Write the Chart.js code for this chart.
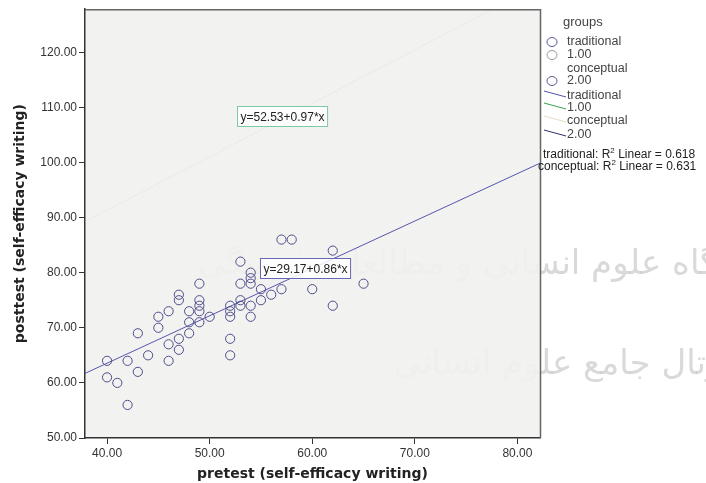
<!DOCTYPE html>
<html>
<head>
<meta charset="utf-8">
<script src="https://cdn.jsdelivr.net/npm/chart.js@4.4.1/dist/chart.umd.min.js"></script>
<style>
  html, body { margin: 0; padding: 0; background: #fff; }
  #wrap { width: 706px; height: 483px; }
</style>
</head>
<body>
<div id="wrap"><canvas id="scatter" width="706" height="483"></canvas></div>
<script>
// traditional group: pretest / posttest scores
const pretest = [57, 58, 62, 53, 54, 54, 54, 53, 49, 57, 55, 56, 55, 60, 62, 65, 53, 53, 54, 54,
  52, 52, 52, 52, 52, 50, 49, 49, 49, 49, 48, 48, 48, 47, 47, 47, 47, 46, 46, 46,
  45, 45, 44, 43, 43, 42, 42, 41, 40, 40];
const posttest = [86, 86, 84, 82, 80, 79, 78, 78, 78, 77, 77, 76, 75, 77, 74, 78, 75, 74, 74, 72,
  74, 73, 72, 68, 65, 72, 75, 74, 73, 71, 73, 71, 69, 76, 75, 68, 66, 73, 67, 64,
  72, 70, 65, 69, 62, 64, 56, 60, 64, 61];

// fit lines (intercept, slope)
const tradFit = [29.17, 0.86];
const concFit = [52.53, 0.97];

const xTicks = [40, 50, 60, 70, 80];
const yTicks = [50, 60, 70, 80, 90, 100, 110, 120];
const xRange = [37.85, 82.2];
const yRange = [50, 127.8];

const legendItems = ['traditional', '1.00', 'conceptual', '2.00', 'traditional', '1.00', 'conceptual', '2.00'];
const r2Labels = [['traditional: R', ' Linear = 0.618'], ['conceptual: R', ' Linear = 0.631']];

const fitLine = (f) => xRange.map(x => ({ x: x, y: f[0] + f[1] * x }));
const eqText = (f) => 'y=' + f[0].toFixed(2) + '+' + f[1].toFixed(2) + '*x';

const txt = '#333';
const sans = '"Liberation Sans", Arial, sans-serif';

const backdrop = {
  id: 'backdrop',
  beforeDraw(chart) {
    const c = chart.ctx, a = chart.chartArea;
    c.save();
    c.fillStyle = '#fff';
    c.fillRect(0, 0, chart.width, chart.height);
    // faint scanned watermark text
    c.fillStyle = 'rgba(170,170,170,0.45)';
    c.font = '34px "DejaVu Sans"';
    c.direction = 'rtl';
    c.textAlign = 'right';
    c.textBaseline = 'middle';
    c.fillText('پژوهشگاه علوم انسانی و مطالعات فرهنگی', 706 + c.measureText('پژوهش').width, 265);
    c.fillText('پرتال جامع علوم انسانی', 706 + c.measureText('پر').width, 365);
    c.fillStyle = 'rgba(241,241,240,0.9)';
    c.fillRect(a.left, a.top, a.right - a.left, a.bottom - a.top);
    c.restore();
  },
  afterDraw(chart) {
    const c = chart.ctx, a = chart.chartArea;
    c.save();
    c.strokeStyle = '#666';
    c.lineWidth = 1.5;
    c.beginPath();
    c.moveTo(a.left, a.top + 0.5);
    c.lineTo(a.right + 0.5, a.top + 0.5);
    c.lineTo(a.right + 0.5, a.bottom);
    c.stroke();
    c.restore();
  }
};

const labels = {
  id: 'labels',
  afterDatasetsDraw(chart) {
    const c = chart.ctx, xs = chart.scales.x, ys = chart.scales.y;
    const boxes = [
      { f: tradFit, x: 54.9, y: 80.9, border: '#6767b5' },
      { f: concFit, x: 52.66, y: 108.5, border: '#7ccaa6' }
    ];
    c.save();
    c.font = '12px ' + sans;
    c.textBaseline = 'middle';
    boxes.forEach(b => {
      const t = eqText(b.f);
      const w = c.measureText(t).width + 6;
      const px = Math.round(xs.getPixelForValue(b.x)) + 0.5;
      const py = Math.round(ys.getPixelForValue(b.y)) + 0.5;
      c.fillStyle = 'rgba(255,255,255,0.85)';
      c.fillRect(px, py - 10, w, 20);
      c.strokeStyle = b.border;
      c.lineWidth = 1;
      c.strokeRect(px, py - 10, w, 20);
      c.fillStyle = '#222';
      c.fillText(t, px + 3, py + 1);
    });
    c.restore();
  }
};

const sideLegend = {
  id: 'sideLegend',
  afterDraw(chart) {
    const c = chart.ctx;
    c.save();
    c.fillStyle = '#444';
    c.textBaseline = 'middle';
    c.font = '13px ' + sans;
    c.fillText('groups', 563, 22);
    c.font = '12.5px ' + sans;
    const rows = [42, 55, 69, 81, 96, 108, 121, 135];
    const circles = ['#55559a', '#9a9a9a', null, '#5a5a8c'];
    const lines = ['#5252b4', '#3aa04a', '#e6dcc4', '#2e2e6e'];
    legendItems.forEach((t, i) => {
      const y = rows[i];
      if (i < 4) {
        if (circles[i]) {
          c.strokeStyle = circles[i];
          c.lineWidth = 1;
          c.beginPath();
          c.ellipse(552, y, 5, 4.5, 0, 0, Math.PI * 2);
          c.stroke();
        }
      } else {
        c.strokeStyle = lines[i - 4];
        c.lineWidth = 1;
        c.beginPath();
        c.moveTo(544, y - 5);
        c.lineTo(566, y + 1);
        c.stroke();
      }
      c.fillStyle = '#444';
      c.fillText(t, 567, y);
    });
    // R squared notes
    const r2x = [543, 538];
    const r2y = [155, 167];
    r2Labels.forEach((p, i) => {
      c.font = '12px ' + sans;
      c.fillStyle = '#222';
      let x = r2x[i];
      c.fillText(p[0], x, r2y[i]);
      x += c.measureText(p[0]).width;
      c.font = '8px ' + sans;
      c.fillText('2', x, r2y[i] - 4);
      x += c.measureText('2').width;
      c.font = '12px ' + sans;
      c.fillText(p[1], x, r2y[i]);
    });
    c.restore();
  }
};

new Chart(document.getElementById('scatter'), {
  type: 'scatter',
  data: {
    datasets: [
      {
        label: 'conceptual fit',
        type: 'line',
        data: fitLine(concFit),
        borderColor: 'rgba(232,224,204,0.45)',
        borderWidth: 1,
        pointRadius: 0
      },
      {
        label: 'traditional',
        data: pretest.map((x, i) => ({ x: x, y: posttest[i] })),
        pointStyle: 'circle',
        pointRadius: 4.6,
        borderColor: '#4e4e8c',
        backgroundColor: 'rgba(0,0,0,0)',
        borderWidth: 1
      },
      {
        label: 'traditional fit',
        type: 'line',
        data: fitLine(tradFit),
        borderColor: '#5555b0',
        borderWidth: 1,
        pointRadius: 0
      }
    ]
  },
  options: {
    responsive: false,
    devicePixelRatio: 1,
    animation: false,
    layout: { padding: { top: 9, right: 166, left: 0, bottom: 0 } },
    plugins: { legend: { display: false }, tooltip: { enabled: false } },
    scales: {
      x: {
        type: 'linear',
        min: xRange[0],
        max: xRange[1],
        afterBuildTicks: (s) => { s.ticks = xTicks.map(v => ({ value: v })); },
        afterFit: (s) => { s.height = 45; },
        grid: { drawOnChartArea: false, drawTicks: true, tickLength: 6, color: '#333' },
        border: { color: '#333', width: 1.5 },
        ticks: { color: txt, padding: 2, maxRotation: 0, font: { family: sans, size: 12 }, callback: (v) => Number(v).toFixed(2) },
        title: { display: true, text: 'pretest (self-efficacy writing)', color: '#222', padding: { top: 0, bottom: 0 }, font: { family: '"DejaVu Sans"', size: 14, weight: 'bold' } }
      },
      y: {
        type: 'linear',
        min: yRange[0],
        max: yRange[1],
        afterBuildTicks: (s) => { s.ticks = yTicks.map(v => ({ value: v })); },
        afterFit: (s) => { s.width = 85; },
        grid: { drawOnChartArea: false, drawTicks: true, tickLength: 6, color: '#333' },
        border: { color: '#333', width: 1.5 },
        ticks: { color: txt, padding: 2, font: { family: sans, size: 12 }, callback: (v) => Number(v).toFixed(2) },
        title: { display: true, text: 'posttest (self-efficacy writing)', color: '#222', padding: { top: 12, bottom: 0 }, font: { family: '"DejaVu Sans"', size: 14, weight: 'bold' } }
      }
    }
  },
  plugins: [backdrop, labels, sideLegend]
});
</script>
</body>
</html>
